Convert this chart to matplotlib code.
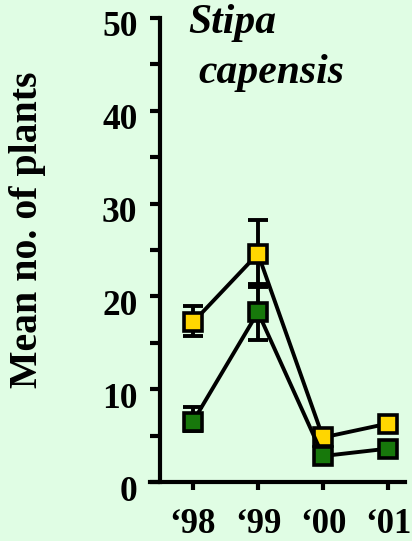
import numpy as np
import matplotlib
matplotlib.use('Agg')
import matplotlib.pyplot as plt
import matplotlib.transforms as mtransforms

years = ['\u201898', '\u201899', '\u201800', '\u201801']
yellow_mean = [17.2, 24.6, 4.8, 6.3]
yellow_err_low = [1.5, 3.6, 0.4, 0.4]
yellow_err_high = [1.8, 3.6, 0.4, 0.4]
green_mean = [6.5, 18.3, 2.8, 3.6]
green_err_low = [1.0, 3.0, 0.3, 0.3]
green_err_high = [1.6, 3.0, 0.3, 0.3]

bg = '#e0fde4'
plt.rcParams['font.family'] = ['Liberation Serif', 'DejaVu Serif']
plt.rcParams['font.weight'] = 'bold'

fig = plt.figure(figsize=(4.12, 5.41), dpi=100, facecolor=bg)
ax = fig.add_axes([0.364, 0.109, 0.619, 0.858], facecolor=bg)

x = np.arange(len(years))
series = [(yellow_mean, yellow_err_low, yellow_err_high, '#ffd600'),
          (green_mean, green_err_low, green_err_high, '#17780b')]
for mean, lo, hi, col in series:
    ax.errorbar(x, mean, yerr=[lo, hi], fmt='none', ecolor='black', elinewidth=2.8,
                capsize=7, capthick=2.8, zorder=2)
    ax.plot(x, mean, color='black', lw=2.8, marker='s', ms=12.5, mfc=col,
            mec='black', mew=2.6, zorder=3)

ax.set_xlim(-0.66, 3.26)
ax.set_ylim(0, 50)
ax.spines['top'].set_visible(False)
ax.spines['right'].set_visible(False)
ax.spines['left'].set_position(('data', -0.51))
ax.spines['left'].set_linewidth(3)
ax.spines['bottom'].set_linewidth(3)

ax.set_yticks(np.arange(0, 51, 10))
ax.set_yticks(np.arange(5, 50, 10), minor=True)
ax.set_xticks(x)
ax.set_xticklabels(years)
ax.tick_params(axis='y', which='both', length=7, width=3, labelsize=25.5, pad=9)
ax.tick_params(axis='x', length=6, width=3, labelsize=25, pad=13)

offset = mtransforms.ScaledTranslation(0, -6 / 100, fig.dpi_scale_trans)
for lab in ax.get_yticklabels():
    lab.set_transform(lab.get_transform() + offset)
    lab.set_fontweight('bold')
for lab in ax.get_xticklabels():
    lab.set_fontweight('bold')

fig.text(28 / 412, 1 - 230 / 541, 'Mean no. of plants', rotation=90,
         ha='center', va='center', fontsize=28.6, fontweight='bold')
fig.text(188 / 412, 1 - 33 / 541, 'Stipa', ha='left', va='baseline',
         fontsize=30, fontweight='bold', style='italic')
fig.text(198 / 412, 1 - 83 / 541, 'capensis', ha='left', va='baseline',
         fontsize=30, fontweight='bold', style='italic')

plt.savefig('out.png', dpi=100, facecolor=bg)
